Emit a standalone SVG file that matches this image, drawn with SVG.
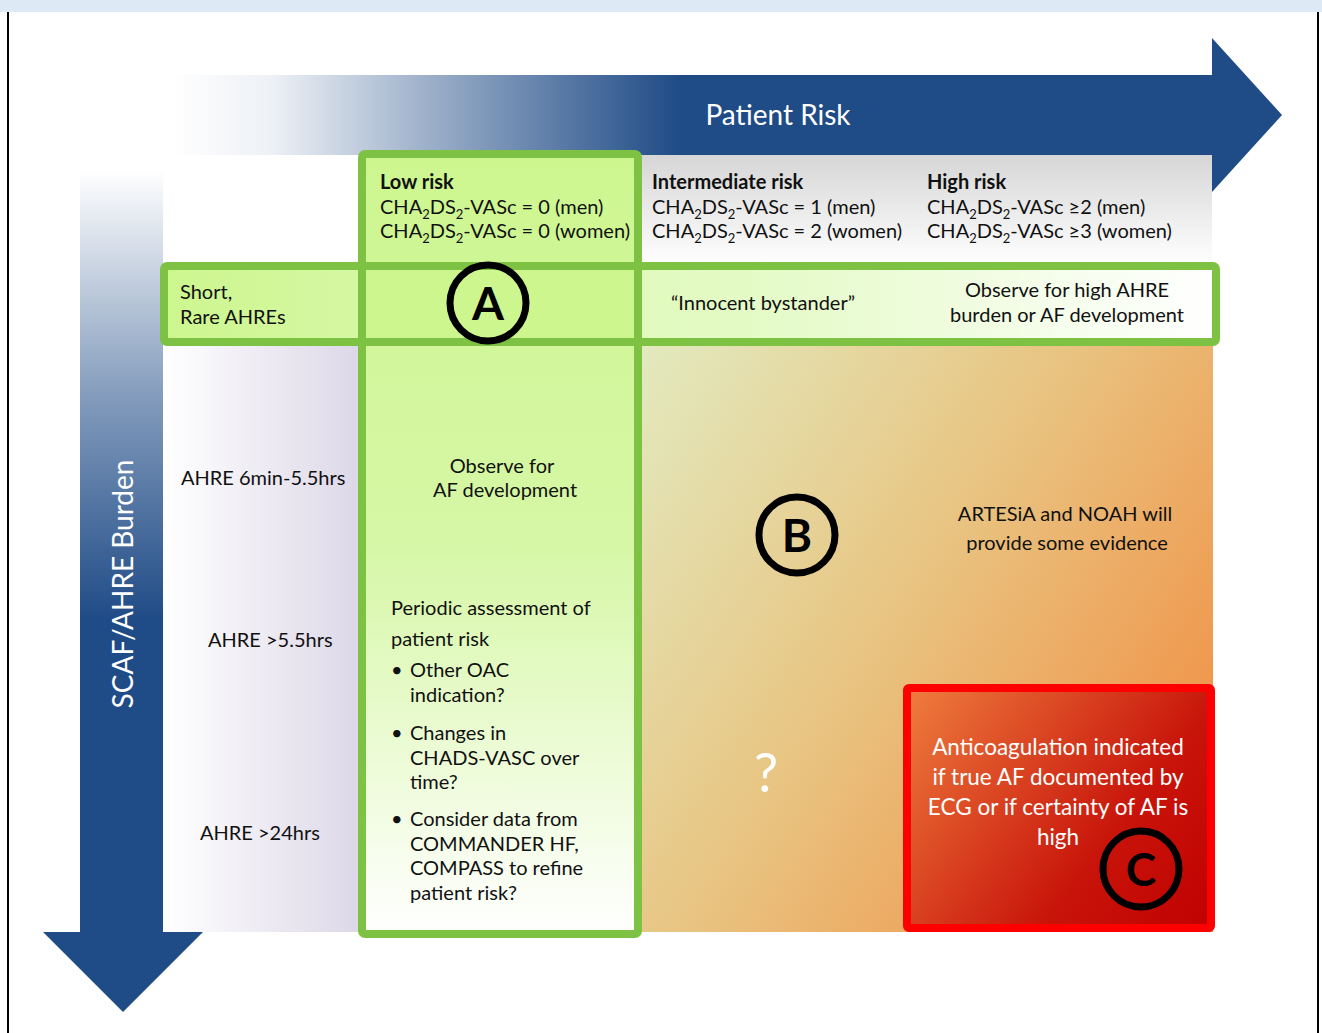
<svg xmlns="http://www.w3.org/2000/svg" width="1322" height="1033" viewBox="0 0 1322 1033">
<defs>
<style>
text{font-family:Lato,"Open Sans","Liberation Sans",sans-serif;fill:#111;font-size:20px}
.b{font-weight:bold}
.w{fill:#fff}
.c{text-anchor:middle}
.title{font-size:28px}
.red{font-size:22.5px}
.q{font-size:54px}
.sub{font-size:13px}
.grn{fill:none;stroke:#7dc242;stroke-width:8}
.circ{fill:none;stroke:#000;stroke-width:7}
.let{font-size:46px;font-weight:bold;text-anchor:middle;fill:#000}
</style>
<linearGradient id="hArrow" gradientUnits="userSpaceOnUse" x1="170" y1="0" x2="680" y2="0">
<stop offset="0" stop-color="#1f4b86" stop-opacity="0"/>
<stop offset="0.2" stop-color="#1f4b86" stop-opacity="0.08"/>
<stop offset="0.6" stop-color="#1f4b86" stop-opacity="0.55"/>
<stop offset="1" stop-color="#1f4b86"/>
</linearGradient>
<linearGradient id="vArrow" gradientUnits="userSpaceOnUse" x1="0" y1="170" x2="0" y2="620">
<stop offset="0" stop-color="#1f4b86" stop-opacity="0"/>
<stop offset="0.5" stop-color="#1f4b86" stop-opacity="0.55"/>
<stop offset="1" stop-color="#1f4b86"/>
</linearGradient>
<linearGradient id="hdr" x1="0" y1="0" x2="0" y2="1">
<stop offset="0" stop-color="#d6d6d6"/>
<stop offset="1" stop-color="#ffffff"/>
</linearGradient>
<linearGradient id="lav" x1="0" y1="0" x2="1" y2="0">
<stop offset="0" stop-color="#ffffff"/>
<stop offset="1" stop-color="#ddd8e8"/>
</linearGradient>
<linearGradient id="col" x1="0" y1="0" x2="0" y2="1">
<stop offset="0" stop-color="#cdf68f"/>
<stop offset="0.5" stop-color="#d6f7a6"/>
<stop offset="1" stop-color="#ffffff"/>
</linearGradient>
<linearGradient id="row" x1="0" y1="0" x2="1" y2="0">
<stop offset="0" stop-color="#cdf68f"/>
<stop offset="0.6" stop-color="#e6fbcb"/>
<stop offset="1" stop-color="#ffffff"/>
</linearGradient>
<linearGradient id="main" gradientUnits="userSpaceOnUse" x1="642" y1="345" x2="1213" y2="720">
<stop offset="0" stop-color="#e2eabf"/>
<stop offset="0.5" stop-color="#e8c684"/>
<stop offset="1" stop-color="#f0954a"/>
</linearGradient>
<linearGradient id="red" gradientUnits="userSpaceOnUse" x1="905" y1="690" x2="1213" y2="930">
<stop offset="0" stop-color="#ef7e3e"/>
<stop offset="0.65" stop-color="#c8140a"/>
<stop offset="1" stop-color="#c00000"/>
</linearGradient>
</defs>

<rect x="0" y="0" width="1322" height="1033" fill="#fff"/>
<rect x="0" y="0" width="1322" height="12" fill="#dde9f5"/>
<line x1="8" y1="12" x2="8" y2="1033" stroke="#000" stroke-width="2"/>
<line x1="1318" y1="12" x2="1318" y2="1033" stroke="#000" stroke-width="2"/>

<g id="axis-patient-risk">
<path d="M150,75 H1212 V38 L1282,115 L1212,192 V155 H150 Z" fill="url(#hArrow)"/>
<text x="778" y="125" class="w c title">Patient Risk</text>
</g>
<g id="axis-burden">
<path d="M80,150 V932 H43 L123,1012 L203,932 H163 V150 Z" fill="url(#vArrow)"/>
<text transform="translate(133,584) rotate(-90)" class="w c title">SCAF/AHRE Burden</text>
</g>

<g id="backgrounds">
<rect x="642" y="155" width="570" height="110" fill="url(#hdr)"/>
<rect x="163" y="345" width="195" height="587" fill="url(#lav)"/>
<rect x="642" y="345" width="571" height="587" fill="url(#main)"/>
</g>

<g id="low-risk-column">
<rect x="362" y="154" width="276" height="780" fill="url(#col)"/>
</g>
<g id="short-rare-row">
<rect x="164" y="266" width="1052" height="76" fill="url(#row)"/>
<rect x="362" y="266" width="276" height="76" fill="#cdf68f"/>
</g>
<rect x="362" y="154" width="276" height="780" class="grn" rx="3"/>
<rect x="164" y="266" width="1052" height="76" class="grn" rx="3"/>

<g id="red-box">
<rect x="907" y="688" width="304" height="240" fill="url(#red)" stroke="#ff0000" stroke-width="8" rx="2"/>
<text x="1058" y="755" class="w c red">Anticoagulation indicated</text>
<text x="1058" y="785" class="w c red">if true AF documented by</text>
<text x="1058" y="815" class="w c red">ECG or if certainty of AF is</text>
<text x="1058" y="845" class="w c red">high</text>
</g>

<g id="header-low">
<text x="380" y="189" class="b">Low risk</text>
<text x="380" y="214">CHA<tspan class="sub" dy="5">2</tspan><tspan dy="-5">DS</tspan><tspan class="sub" dy="5">2</tspan><tspan dy="-5">-VASc = 0 (men)</tspan></text>
<text x="380" y="238">CHA<tspan class="sub" dy="5">2</tspan><tspan dy="-5">DS</tspan><tspan class="sub" dy="5">2</tspan><tspan dy="-5">-VASc = 0 (women)</tspan></text>
</g>
<g id="header-intermediate">
<text x="652" y="189" class="b">Intermediate risk</text>
<text x="652" y="214">CHA<tspan class="sub" dy="5">2</tspan><tspan dy="-5">DS</tspan><tspan class="sub" dy="5">2</tspan><tspan dy="-5">-VASc = 1 (men)</tspan></text>
<text x="652" y="238">CHA<tspan class="sub" dy="5">2</tspan><tspan dy="-5">DS</tspan><tspan class="sub" dy="5">2</tspan><tspan dy="-5">-VASc = 2 (women)</tspan></text>
</g>
<g id="header-high">
<text x="927" y="189" class="b">High risk</text>
<text x="927" y="214">CHA<tspan class="sub" dy="5">2</tspan><tspan dy="-5">DS</tspan><tspan class="sub" dy="5">2</tspan><tspan dy="-5">-VASc ≥2 (men)</tspan></text>
<text x="927" y="238">CHA<tspan class="sub" dy="5">2</tspan><tspan dy="-5">DS</tspan><tspan class="sub" dy="5">2</tspan><tspan dy="-5">-VASc ≥3 (women)</tspan></text>
</g>

<g id="row-labels">
<text x="180" y="299">Short,</text>
<text x="180" y="324">Rare AHREs</text>
<text x="181" y="485">AHRE 6min-5.5hrs</text>
<text x="208" y="647">AHRE &gt;5.5hrs</text>
<text x="200" y="840">AHRE &gt;24hrs</text>
</g>

<g id="cells">
<text x="763" y="310" class="c">“Innocent bystander”</text>
<text x="1067" y="297" class="c">Observe for high AHRE</text>
<text x="1067" y="322" class="c">burden or AF development</text>
<text x="502" y="473" class="c">Observe for</text>
<text x="505" y="497" class="c">AF development</text>
<text x="1065" y="521" class="c">ARTESiA and NOAH will</text>
<text x="1067" y="550" class="c">provide some evidence</text>
<text x="391" y="615">Periodic assessment of</text>
<text x="391" y="646">patient risk</text>
<text x="391" y="677">•</text><text x="410" y="677">Other OAC</text>
<text x="410" y="702">indication?</text>
<text x="391" y="740">•</text><text x="410" y="740">Changes in</text>
<text x="410" y="765">CHADS-VASC over</text>
<text x="410" y="789">time?</text>
<text x="391" y="826">•</text><text x="410" y="826">Consider data from</text>
<text x="410" y="851">COMMANDER HF,</text>
<text x="410" y="875">COMPASS to refine</text>
<text x="410" y="900">patient risk?</text>
<text x="766" y="792" class="w c q">?</text>
</g>

<g id="markers">
<g id="marker-A"><circle cx="488" cy="303" r="38" class="circ"/><text x="488" y="320" class="let">A</text></g>
<g id="marker-B"><circle cx="797" cy="535" r="38" class="circ"/><text x="797" y="552" class="let">B</text></g>
<g id="marker-C"><circle cx="1141" cy="869" r="38" class="circ"/><text x="1141" y="886" class="let">C</text></g>
</g>
</svg>
